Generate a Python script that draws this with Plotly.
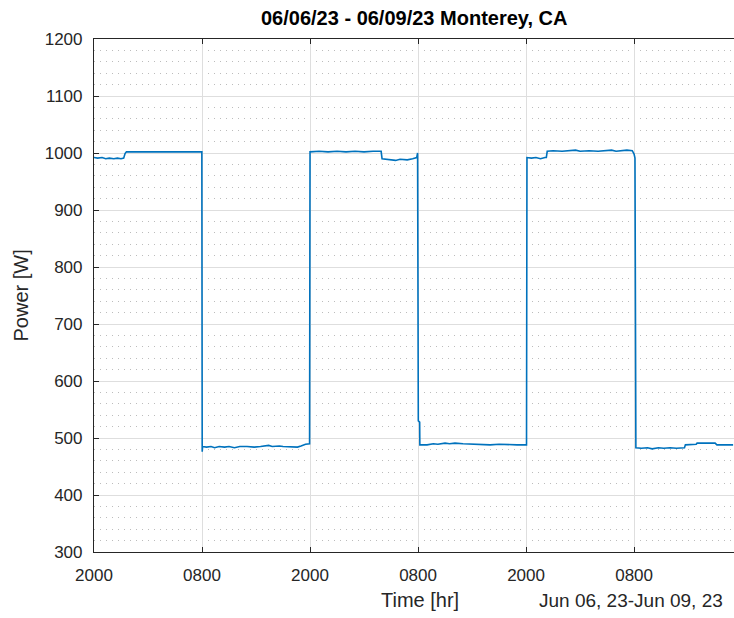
import pandas as pd
import plotly.graph_objects as go

# Power log, hours after 2023-06-06 20:00 and measured power in watts
start_time = "2023-06-06 20:00"
hours = [
    0.0, 0.4, 0.9, 1.3, 1.7, 2.2, 2.6, 3.0, 3.3, 3.45, 3.6, 4.3, 4.8, 5.3, 6.0, 6.8,
    7.4, 8.1, 8.9, 9.6, 10.3, 10.9, 11.5, 11.98, 12.02, 12.06, 12.5, 13.0, 13.4, 13.9,
    14.5, 15.0, 15.6, 16.2, 17.0, 17.8, 18.5, 19.4, 19.8, 20.6, 21.0, 21.8, 22.6, 23.0,
    23.5, 23.95, 24.0, 25.0, 26.0, 27.0, 28.0, 29.0, 30.0, 31.0, 31.9, 32.0, 32.8, 33.5,
    34.0, 34.8, 35.4, 35.85, 35.95, 36.03, 36.18, 36.2, 37.0, 37.7, 38.2, 39.0, 39.5,
    40.1, 41.0, 42.0, 43.0, 44.0, 45.0, 46.0, 47.0, 47.9, 48.05, 48.1, 48.6, 49.1, 49.6,
    50.1, 50.25, 50.35, 51.0, 52.0, 53.0, 53.5, 54.0, 55.0, 56.0, 57.0, 57.5, 58.0,
    58.6, 59.2, 59.8, 60.0, 60.1, 60.2, 60.8, 61.5, 62.0, 62.7, 63.3, 64.0, 64.7, 65.6,
    65.7, 66.3, 66.9, 67.0, 68.0, 69.0, 69.2, 70.0, 70.5, 71.0,
]
power_w = [
    992, 991, 992, 990, 991, 990, 991, 990, 991, 999, 1002, 1002, 1003, 1002, 1003, 1002,
    1003, 1002, 1003, 1002, 1003, 1002, 1003, 1002, 476, 485, 484, 485, 483, 485,
    484, 485, 483, 485, 485, 484, 485, 487, 485, 486, 485, 485, 484, 486,
    489, 490, 1002, 1003, 1002, 1003, 1002, 1003, 1002, 1003, 1003, 990, 989, 987,
    989, 988, 990, 992, 1000, 530, 528, 488, 488, 490, 489, 491, 490,
    491, 490, 489, 489, 488, 489, 488, 488, 488, 488, 992, 991, 992, 990,
    992, 992, 1003, 1004, 1003, 1004, 1005, 1003, 1004, 1003, 1004, 1005, 1003,
    1004, 1005, 1004, 998, 991, 483, 482, 483, 481, 483, 482, 483, 482, 483,
    488, 488, 489, 491, 491, 491, 488, 488, 489, 488,
]
x_span_hours = 71.1
y_range = [300, 1200]

title_text = "06/06/23 - 06/09/23 Monterey, CA"
x_label = "Time [hr]"
y_label = "Power [W]"
date_span_label = "Jun 06, 23-Jun 09, 23"

t0 = pd.Timestamp(start_time)
times = t0 + pd.to_timedelta(hours, unit="h")
t_end = t0 + pd.to_timedelta(x_span_hours, unit="h")

FONT = "Liberation Sans, Arial, Helvetica, sans-serif"
INK = "#262626"

fig = go.Figure(
    go.Scatter(
        x=times,
        y=power_w,
        mode="lines",
        line=dict(color="#0072BD", width=1.6),
        hoverinfo="x+y",
    )
)

fig.update_layout(
    width=734,
    height=618,
    margin=dict(l=94, r=0, t=39, b=66),
    paper_bgcolor="white",
    plot_bgcolor="white",
    showlegend=False,
    font=dict(family=FONT, color=INK, size=17),
)

fig.update_xaxes(
    type="date",
    range=[t0, t_end],
    tick0=t0,
    dtick=12 * 3600 * 1000,
    tickformat="%H%M",
    ticks="inside",
    ticklen=5,
    tickcolor=INK,
    showline=True,
    linecolor=INK,
    linewidth=1.2,
    mirror="ticks",
    showgrid=True,
    gridcolor="#dedede",
    gridwidth=1,
    zeroline=False,
    tickfont=dict(size=17, color=INK),
    ticklabelstandoff=7,
)

fig.update_yaxes(
    range=y_range,
    dtick=100,
    ticks="inside",
    ticklen=5,
    tickcolor=INK,
    showline=True,
    linecolor=INK,
    linewidth=1.2,
    mirror=False,
    showgrid=True,
    gridcolor="#dedede",
    gridwidth=1,
    zeroline=False,
    tickfont=dict(size=17, color=INK),
    ticklabelstandoff=7,
    minor=dict(dtick=20, showgrid=True, gridcolor="#bcbcbc", griddash="1px,5px", ticks=""),
)

fig.add_annotation(
    text=f"<b>{title_text}</b>", xref="paper", yref="paper", x=0.5, y=1,
    xanchor="center", yanchor="middle", yshift=21, showarrow=False,
    font=dict(size=20, color="black", family=FONT),
)
fig.add_annotation(
    text=y_label, xref="paper", yref="paper", x=0, y=0.5, textangle=-90,
    xanchor="center", yanchor="middle", xshift=-74, showarrow=False,
    font=dict(size=20, color=INK, family=FONT),
)
fig.add_annotation(
    text=x_label, xref="paper", yref="paper", x=0.509, y=0,
    xanchor="center", yanchor="middle", yshift=-48, showarrow=False,
    font=dict(size=20, color=INK, family=FONT),
)
fig.add_annotation(
    text=date_span_label, xref="paper", yref="paper", x=0.839, y=0,
    xanchor="center", yanchor="middle", yshift=-48, showarrow=False,
    font=dict(size=19, color=INK, family=FONT),
)

fig.write_html("out.html")
